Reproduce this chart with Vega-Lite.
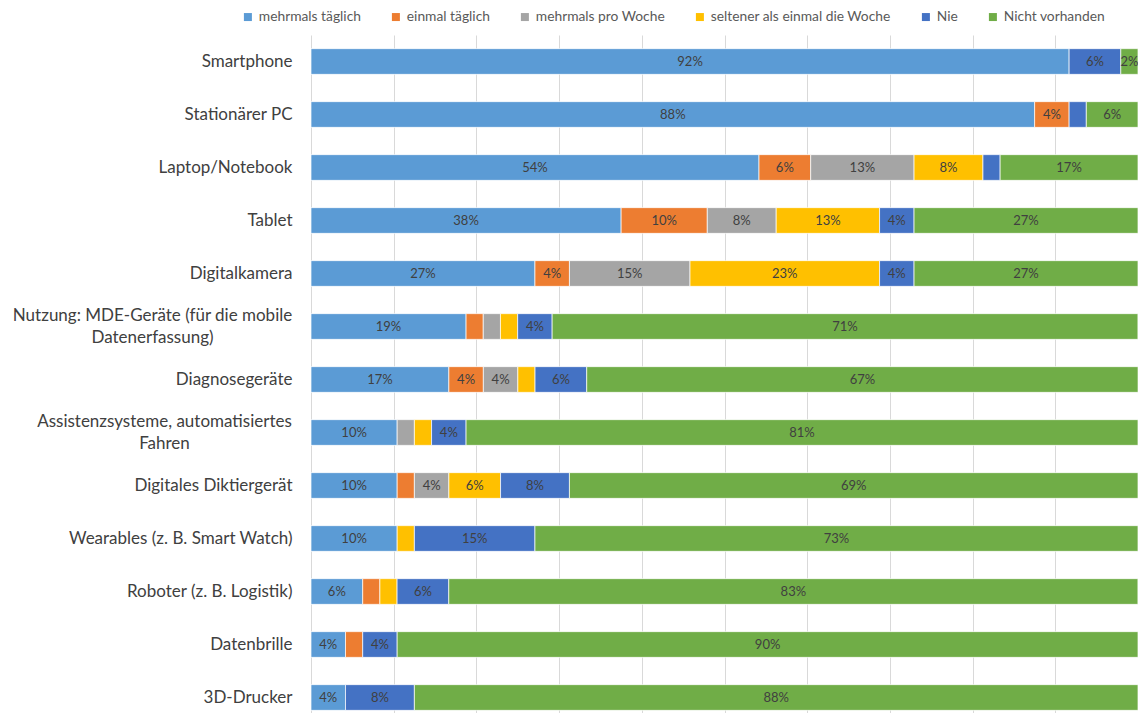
{
  "$schema": "https://vega.github.io/schema/vega-lite/v6.json",
  "width": 827,
  "height": 689,
  "autosize": {"type": "none"},
  "padding": {"left": 311, "top": 35, "right": 0, "bottom": 0},
  "background": "white",
  "config": {"font": "Lato", "view": {"stroke": null}},
  "data": {
    "values": [
      {"cat": "Smartphone", "series": "mehrmals täglich", "pct": 91.67, "label": "92%"},
      {"cat": "Smartphone", "series": "Nie", "pct": 6.25, "label": "6%"},
      {"cat": "Smartphone", "series": "Nicht vorhanden", "pct": 2.08, "label": "2%"},
      {"cat": "Stationärer PC", "series": "mehrmals täglich", "pct": 87.5, "label": "88%"},
      {"cat": "Stationärer PC", "series": "einmal täglich", "pct": 4.17, "label": "4%"},
      {"cat": "Stationärer PC", "series": "Nie", "pct": 2.08, "label": ""},
      {"cat": "Stationärer PC", "series": "Nicht vorhanden", "pct": 6.25, "label": "6%"},
      {"cat": "Laptop/Notebook", "series": "mehrmals täglich", "pct": 54.17, "label": "54%"},
      {"cat": "Laptop/Notebook", "series": "einmal täglich", "pct": 6.25, "label": "6%"},
      {"cat": "Laptop/Notebook", "series": "mehrmals pro Woche", "pct": 12.5, "label": "13%"},
      {"cat": "Laptop/Notebook", "series": "seltener als einmal die Woche", "pct": 8.33, "label": "8%"},
      {"cat": "Laptop/Notebook", "series": "Nie", "pct": 2.08, "label": ""},
      {"cat": "Laptop/Notebook", "series": "Nicht vorhanden", "pct": 16.67, "label": "17%"},
      {"cat": "Tablet", "series": "mehrmals täglich", "pct": 37.5, "label": "38%"},
      {"cat": "Tablet", "series": "einmal täglich", "pct": 10.42, "label": "10%"},
      {"cat": "Tablet", "series": "mehrmals pro Woche", "pct": 8.33, "label": "8%"},
      {"cat": "Tablet", "series": "seltener als einmal die Woche", "pct": 12.5, "label": "13%"},
      {"cat": "Tablet", "series": "Nie", "pct": 4.17, "label": "4%"},
      {"cat": "Tablet", "series": "Nicht vorhanden", "pct": 27.08, "label": "27%"},
      {"cat": "Digitalkamera", "series": "mehrmals täglich", "pct": 27.08, "label": "27%"},
      {"cat": "Digitalkamera", "series": "einmal täglich", "pct": 4.17, "label": "4%"},
      {"cat": "Digitalkamera", "series": "mehrmals pro Woche", "pct": 14.58, "label": "15%"},
      {"cat": "Digitalkamera", "series": "seltener als einmal die Woche", "pct": 22.92, "label": "23%"},
      {"cat": "Digitalkamera", "series": "Nie", "pct": 4.17, "label": "4%"},
      {"cat": "Digitalkamera", "series": "Nicht vorhanden", "pct": 27.08, "label": "27%"},
      {"cat": "Nutzung: MDE-Geräte (für die mobile Datenerfassung)", "series": "mehrmals täglich", "pct": 18.75, "label": "19%"},
      {"cat": "Nutzung: MDE-Geräte (für die mobile Datenerfassung)", "series": "einmal täglich", "pct": 2.08, "label": ""},
      {"cat": "Nutzung: MDE-Geräte (für die mobile Datenerfassung)", "series": "mehrmals pro Woche", "pct": 2.08, "label": ""},
      {"cat": "Nutzung: MDE-Geräte (für die mobile Datenerfassung)", "series": "seltener als einmal die Woche", "pct": 2.08, "label": ""},
      {"cat": "Nutzung: MDE-Geräte (für die mobile Datenerfassung)", "series": "Nie", "pct": 4.17, "label": "4%"},
      {"cat": "Nutzung: MDE-Geräte (für die mobile Datenerfassung)", "series": "Nicht vorhanden", "pct": 70.83, "label": "71%"},
      {"cat": "Diagnosegeräte", "series": "mehrmals täglich", "pct": 16.67, "label": "17%"},
      {"cat": "Diagnosegeräte", "series": "einmal täglich", "pct": 4.17, "label": "4%"},
      {"cat": "Diagnosegeräte", "series": "mehrmals pro Woche", "pct": 4.17, "label": "4%"},
      {"cat": "Diagnosegeräte", "series": "seltener als einmal die Woche", "pct": 2.08, "label": ""},
      {"cat": "Diagnosegeräte", "series": "Nie", "pct": 6.25, "label": "6%"},
      {"cat": "Diagnosegeräte", "series": "Nicht vorhanden", "pct": 66.67, "label": "67%"},
      {"cat": "Assistenzsysteme, automatisiertes Fahren", "series": "mehrmals täglich", "pct": 10.42, "label": "10%"},
      {"cat": "Assistenzsysteme, automatisiertes Fahren", "series": "mehrmals pro Woche", "pct": 2.08, "label": ""},
      {"cat": "Assistenzsysteme, automatisiertes Fahren", "series": "seltener als einmal die Woche", "pct": 2.08, "label": ""},
      {"cat": "Assistenzsysteme, automatisiertes Fahren", "series": "Nie", "pct": 4.17, "label": "4%"},
      {"cat": "Assistenzsysteme, automatisiertes Fahren", "series": "Nicht vorhanden", "pct": 81.25, "label": "81%"},
      {"cat": "Digitales Diktiergerät", "series": "mehrmals täglich", "pct": 10.42, "label": "10%"},
      {"cat": "Digitales Diktiergerät", "series": "einmal täglich", "pct": 2.08, "label": ""},
      {"cat": "Digitales Diktiergerät", "series": "mehrmals pro Woche", "pct": 4.17, "label": "4%"},
      {"cat": "Digitales Diktiergerät", "series": "seltener als einmal die Woche", "pct": 6.25, "label": "6%"},
      {"cat": "Digitales Diktiergerät", "series": "Nie", "pct": 8.33, "label": "8%"},
      {"cat": "Digitales Diktiergerät", "series": "Nicht vorhanden", "pct": 68.75, "label": "69%"},
      {"cat": "Wearables (z. B. Smart Watch)", "series": "mehrmals täglich", "pct": 10.42, "label": "10%"},
      {"cat": "Wearables (z. B. Smart Watch)", "series": "seltener als einmal die Woche", "pct": 2.08, "label": ""},
      {"cat": "Wearables (z. B. Smart Watch)", "series": "Nie", "pct": 14.58, "label": "15%"},
      {"cat": "Wearables (z. B. Smart Watch)", "series": "Nicht vorhanden", "pct": 72.92, "label": "73%"},
      {"cat": "Roboter (z. B. Logistik)", "series": "mehrmals täglich", "pct": 6.25, "label": "6%"},
      {"cat": "Roboter (z. B. Logistik)", "series": "einmal täglich", "pct": 2.08, "label": ""},
      {"cat": "Roboter (z. B. Logistik)", "series": "seltener als einmal die Woche", "pct": 2.08, "label": ""},
      {"cat": "Roboter (z. B. Logistik)", "series": "Nie", "pct": 6.25, "label": "6%"},
      {"cat": "Roboter (z. B. Logistik)", "series": "Nicht vorhanden", "pct": 83.33, "label": "83%"},
      {"cat": "Datenbrille", "series": "mehrmals täglich", "pct": 4.17, "label": "4%"},
      {"cat": "Datenbrille", "series": "einmal täglich", "pct": 2.08, "label": ""},
      {"cat": "Datenbrille", "series": "Nie", "pct": 4.17, "label": "4%"},
      {"cat": "Datenbrille", "series": "Nicht vorhanden", "pct": 89.58, "label": "90%"},
      {"cat": "3D-Drucker", "series": "mehrmals täglich", "pct": 4.17, "label": "4%"},
      {"cat": "3D-Drucker", "series": "Nie", "pct": 8.33, "label": "8%"},
      {"cat": "3D-Drucker", "series": "Nicht vorhanden", "pct": 87.5, "label": "88%"}
    ]
  },
  "transform": [
    {"calculate": "indexof(['mehrmals täglich','einmal täglich','mehrmals pro Woche','seltener als einmal die Woche','Nie','Nicht vorhanden'], datum.series)", "as": "ord"},
    {"stack": "pct", "groupby": ["cat"], "sort": [{"field": "ord", "order": "ascending"}], "as": ["x0", "x1"]},
    {"calculate": "(datum.x0 + datum.x1) / 2", "as": "xm"}
  ],
  "encoding": {
    "y": {
      "field": "cat",
      "type": "nominal",
      "sort": ["Smartphone", "Stationärer PC", "Laptop/Notebook", "Tablet", "Digitalkamera", "Nutzung: MDE-Geräte (für die mobile Datenerfassung)", "Diagnosegeräte", "Assistenzsysteme, automatisiertes Fahren", "Digitales Diktiergerät", "Wearables (z. B. Smart Watch)", "Roboter (z. B. Logistik)", "Datenbrille", "3D-Drucker"],
      "scale": {"paddingInner": 0.515, "paddingOuter": 0.2575},
      "axis": {
        "title": null,
        "ticks": false,
        "domainColor": "#d9d9d9",
        "domainWidth": 1,
        "labelFontSize": 17,
        "labelColor": "#404040",
        "labelLimit": 400,
        "labelLineHeight": 22,
        "labelAlign": {
          "condition": {"test": "datum.value == 'Nutzung: MDE-Geräte (für die mobile Datenerfassung)' || datum.value == 'Assistenzsysteme, automatisiertes Fahren'", "value": "center"},
          "value": "right"
        },
        "labelPadding": {
          "condition": [
            {"test": "datum.value == 'Nutzung: MDE-Geräte (für die mobile Datenerfassung)'", "value": 159},
            {"test": "datum.value == 'Assistenzsysteme, automatisiertes Fahren'", "value": 147}
          ],
          "value": 19
        },
        "labelOffset": {
          "condition": {"test": "datum.value == 'Nutzung: MDE-Geräte (für die mobile Datenerfassung)' || datum.value == 'Assistenzsysteme, automatisiertes Fahren'", "value": -11},
          "value": 0
        },
        "labelExpr": "datum.label == 'Nutzung: MDE-Geräte (für die mobile Datenerfassung)' ? ['Nutzung: MDE-Geräte (für die mobile', 'Datenerfassung)'] : datum.label == 'Assistenzsysteme, automatisiertes Fahren' ? ['Assistenzsysteme, automatisiertes', 'Fahren'] : datum.label"
      }
    }
  },
  "layer": [
    {
      "mark": {"type": "bar", "stroke": "white", "strokeWidth": 0.7},
      "encoding": {
        "x": {
          "field": "x0",
          "type": "quantitative",
          "scale": {"domain": [0, 100], "nice": false},
          "axis": {
            "title": null,
            "labels": false,
            "ticks": false,
            "domain": false,
            "grid": true,
            "gridColor": "#d9d9d9",
            "gridWidth": 1,
            "values": [10, 20, 30, 40, 50, 60, 70, 80, 90, 100]
          }
        },
        "x2": {"field": "x1"},
        "color": {
          "field": "series",
          "type": "nominal",
          "scale": {
            "domain": ["mehrmals täglich", "einmal täglich", "mehrmals pro Woche", "seltener als einmal die Woche", "Nie", "Nicht vorhanden"],
            "range": ["#5B9BD5", "#ED7D31", "#A5A5A5", "#FFC000", "#4472C4", "#70AD47"]
          },
          "legend": {
            "title": null,
            "orient": "none",
            "legendX": -70,
            "legendY": -25,
            "direction": "horizontal",
            "symbolType": "square",
            "symbolSize": 64,
            "symbolStrokeWidth": 0,
            "symbolOpacity": 1,
            "labelFontSize": 13.8,
            "labelColor": "#595959",
            "labelOffset": 4,
            "columnPadding": 28,
            "labelLimit": 300
          }
        }
      }
    },
    {
      "mark": {"type": "text", "fontSize": 13, "color": "#404040"},
      "encoding": {
        "x": {"field": "xm", "type": "quantitative"},
        "text": {"field": "label"}
      }
    }
  ]
}
